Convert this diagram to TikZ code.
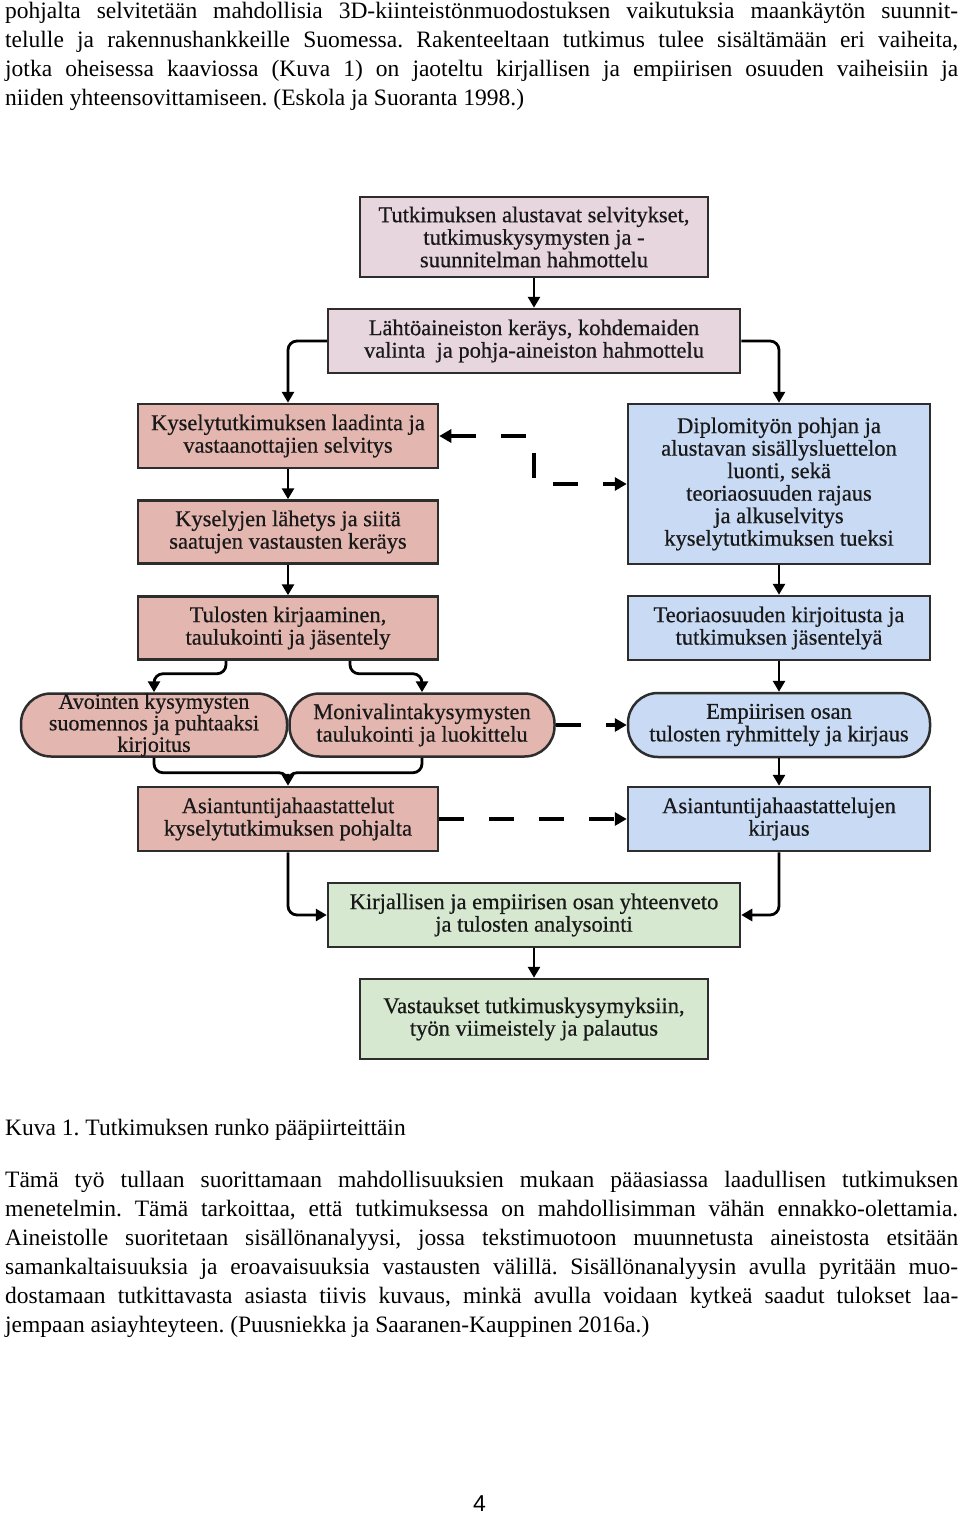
\documentclass[tikz,border=0pt]{standalone}
\usepackage{fontspec}
\setmainfont{Liberation Serif}
\newfontfamily\pnfont{Liberation Sans}
\newfontfamily\boxff{Liberation Serif}[FakeBold=0.6]
\usetikzlibrary{arrows.meta,calc}
\definecolor{bordc}{RGB}{45,45,45}
\definecolor{pinkA}{RGB}{232,214,222}
\definecolor{salmon}{RGB}{228,182,176}
\definecolor{blueA}{RGB}{201,218,244}
\definecolor{greenA}{RGB}{214,232,208}
\newcommand\boxfont{\boxff\fontsize{22.5}{22.5}\selectfont}
\newcommand\bodyfont{\fontsize{23.5}{29}\selectfont}
\newcommand\jline[1]{\makebox[953pt][s]{#1}}
\frenchspacing
\begin{document}
\frenchspacing
\begin{tikzpicture}[x=1pt,y=-1pt,
  box/.style={draw=bordc, line width=2.5pt, align=center, inner sep=2pt, font=\boxfont, text=black!90},
  pill/.style={box, rounded corners=30pt},
  conn/.style={draw=black, line width=2.8pt, -{Triangle[length=11pt,width=12pt]}, rounded corners=9pt},
  plain/.style={draw=black, line width=2.8pt, rounded corners=9pt},
  dconn/.style={draw=black, line width=3.5pt, dash pattern=on 25pt off 25pt, -{Triangle[length=12pt,width=13pt]}},
  tx/.style={anchor=base west, inner sep=0pt, font=\bodyfont\frenchspacing}]
\useasboundingbox (0,0) rectangle (960,1515);
\fill[white] (0,0) rectangle (960,1515);

% body text above
\node[tx] (l1) at (5,18) {\jline{pohjalta selvitetään mahdollisia 3D-kiinteistönmuodostuksen vaikutuksia maankäytön suunnit-}};
\node[tx] (l2) at (5,47) {\jline{telulle ja rakennushankkeille Suomessa. Rakenteeltaan tutkimus tulee sisältämään eri vaiheita,}};
\node[tx] (l3) at (5,76) {\jline{jotka oheisessa kaaviossa (Kuva 1) on jaoteltu kirjallisen ja empiirisen osuuden vaiheisiin ja}};
\node[tx] (l4) at (5,105) {niiden yhteensovittamiseen. (Eskola ja Suoranta 1998.)};

% diagram boxes
\node[box, fill=pinkA, minimum width=348pt, minimum height=80pt] (T1) at (534,237)
  {Tutkimuksen alustavat selvitykset,\\ tutkimuskysymysten ja -\\ suunnitelman hahmottelu};
\node[box, fill=pinkA, minimum width=412pt, minimum height=64pt] (T2) at (534,341)
  {Lähtöaineiston keräys, kohdemaiden\\ valinta\ \ ja pohja-aineiston hahmottelu};

\node[box, fill=salmon, minimum width=300pt, minimum height=64pt] (K1) at (288,436)
  {Kyselytutkimuksen laadinta ja\\ vastaanottajien selvitys};
\node[box, fill=salmon, minimum width=300pt, minimum height=63pt] (K2) at (288,532)
  {Kyselyjen lähetys ja siitä\\ saatujen vastausten keräys};
\node[box, fill=salmon, minimum width=300pt, minimum height=63pt] (K3) at (288,628)
  {Tulosten kirjaaminen,\\ taulukointi ja jäsentely};
\node[pill, fill=salmon, minimum width=266pt, minimum height=63pt, inner sep=0pt, font=\boxff\fontsize{22}{21.5}\selectfont] (P1) at (154,725)
  {Avointen kysymysten\\ suomennos ja puhtaaksi\\ kirjoitus};
\node[pill, fill=salmon, minimum width=265pt, minimum height=63pt] (P2) at (422,725)
  {Monivalintakysymysten\\ taulukointi ja luokittelu};
\node[box, fill=salmon, minimum width=300pt, minimum height=64pt] (K4) at (288,819)
  {Asiantuntijahaastattelut\\ kyselytutkimuksen pohjalta};

\node[box, fill=blueA, minimum width=302pt, minimum height=160pt] (B1) at (779,484)
  {Diplomityön pohjan ja\\ alustavan sisällysluettelon\\ luonti, sekä\\ teoriaosuuden rajaus\\ ja alkuselvitys\\ kyselytutkimuksen tueksi};
\node[box, fill=blueA, minimum width=302pt, minimum height=64pt] (B2) at (779,628)
  {Teoriaosuuden kirjoitusta ja\\ tutkimuksen jäsentelyä};
\node[pill, fill=blueA, minimum width=302pt, minimum height=64pt] (B3) at (779,725)
  {Empiirisen osan\\ tulosten ryhmittely ja kirjaus};
\node[box, fill=blueA, minimum width=302pt, minimum height=64pt] (B4) at (779,819)
  {Asiantuntijahaastattelujen\\ kirjaus};

\node[box, fill=greenA, minimum width=412pt, minimum height=64pt] (G1) at (534,915)
  {Kirjallisen ja empiirisen osan yhteenveto\\ ja tulosten analysointi};
\node[box, fill=greenA, minimum width=348pt, minimum height=80pt] (G2) at (534,1019)
  {Vastaukset tutkimuskysymyksiin,\\ työn viimeistely ja palautus};

% connectors
\draw[conn] (T1.south) -- (T2.north);
\draw[conn] (T2.west) -| (K1.north);
\draw[conn] (T2.east) -| (B1.north);
\draw[conn] (K1.south) -- (K2.north);
\draw[conn] (K2.south) -- (K3.north);
\draw[conn] ($(K3.south)+(-62,0)$) -- ++(0,13) -| (P1.north);
\draw[conn] ($(K3.south)+(62,0)$) -- ++(0,13) -| (P2.north);
\draw[plain] (P1.south) -- ++(0,15) -| ($(K4.north)+(0,-12)$);
\draw[conn] (P2.south) -- ++(0,15) -| (K4.north);
\draw[conn] (K4.south) |- (G1.west);
\draw[conn] (B4.south) |- (G1.east);
\draw[conn] (B1.south) -- (B2.north);
\draw[conn] (B2.south) -- (B3.north);
\draw[conn] (B3.south) -- (B4.north);
\draw[conn] (G1.south) -- (G2.north);

\coordinate (mid) at (534,460);
\draw[dconn, {Triangle[length=12pt,width=13pt]}-{Triangle[length=12pt,width=13pt]}] (K1.east) -| (mid) |- (B1.west);
\draw[dconn] (P2.east) -- (B3.west);
\draw[dconn] (K4.east) -- (B4.west);

% text below
\node[tx] (cap) at (5,1135) {Kuva 1. Tutkimuksen runko pääpiirteittäin};
\node[tx] (p1) at (5,1187) {\jline{Tämä työ tullaan suorittamaan mahdollisuuksien mukaan pääasiassa laadullisen tutkimuksen}};
\node[tx] (p2) at (5,1216) {\jline{menetelmin. Tämä tarkoittaa, että tutkimuksessa on mahdollisimman vähän ennakko-olettamia.}};
\node[tx] (p3) at (5,1245) {\jline{Aineistolle suoritetaan sisällönanalyysi, jossa tekstimuotoon muunnetusta aineistosta etsitään}};
\node[tx] (p4) at (5,1274) {\jline{samankaltaisuuksia ja eroavaisuuksia vastausten välillä. Sisällönanalyysin avulla pyritään muo-}};
\node[tx] (p5) at (5,1303) {\jline{dostamaan tutkittavasta asiasta tiivis kuvaus, minkä avulla voidaan kytkeä saadut tulokset laa-}};
\node[tx] (p6) at (5,1332) {jempaan asiayhteyteen. (Puusniekka ja Saaranen-Kauppinen 2016a.)};
\node[tx, font=\pnfont\fontsize{23}{28}\selectfont] (pn) at (473,1511) {4};
\end{tikzpicture}
\end{document}
